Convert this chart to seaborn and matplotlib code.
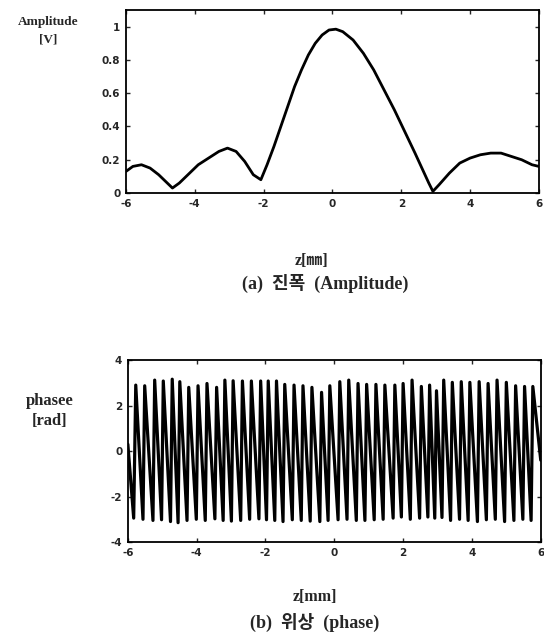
import pandas as pd
import matplotlib.pyplot as plt
import seaborn as sns

# amplitude curve
amp_z = [-6.0, -5.8, -5.55, -5.3, -5.05, -4.85, -4.65, -4.45, -4.2, -3.9, -3.6, -3.3, -3.05,
         -2.8, -2.55, -2.3, -2.08, -1.9, -1.7, -1.5, -1.3, -1.1, -0.9, -0.7, -0.5, -0.3,
         -0.1, 0.1, 0.3, 0.6, 0.9, 1.2, 1.5, 1.8, 2.1, 2.4, 2.6, 2.8, 2.92, 3.1, 3.4,
         3.7, 4.0, 4.3, 4.6, 4.9, 5.2, 5.5, 5.8, 6.0]
amp_v = [0.13, 0.16, 0.17, 0.15, 0.11, 0.07, 0.03, 0.06, 0.11, 0.17, 0.21, 0.25, 0.27,
         0.25, 0.19, 0.11, 0.08, 0.17, 0.28, 0.40, 0.52, 0.64, 0.74, 0.83, 0.90, 0.95,
         0.98, 0.985, 0.97, 0.92, 0.84, 0.74, 0.62, 0.50, 0.37, 0.24, 0.15, 0.06, 0.01, 0.05, 0.12,
         0.18, 0.21, 0.23, 0.24, 0.24, 0.22, 0.20, 0.17, 0.16]

# phase: wrapped sawtooth, peaks and troughs
peak_z = [-5.77, -5.51, -5.22, -4.97, -4.71, -4.49, -4.23, -3.96, -3.70, -3.42, -3.18, -2.94,
          -2.67, -2.41, -2.14, -1.92, -1.68, -1.44, -1.17, -0.91, -0.65, -0.37, -0.13, 0.16,
          0.42, 0.69, 0.94, 1.21, 1.47, 1.76, 2.00, 2.26, 2.53, 2.77, 2.97, 3.18, 3.43, 3.69,
          3.94, 4.21, 4.47, 4.73, 5.00, 5.27, 5.53, 5.77]
peak_v = [2.90, 2.87, 3.12, 3.08, 3.16, 3.05, 2.80, 2.87, 2.97, 2.80, 3.12, 3.09,
          3.08, 3.08, 3.08, 3.08, 3.08, 2.93, 2.90, 2.87, 2.80, 2.58, 2.87, 3.05,
          3.12, 2.97, 2.93, 2.93, 2.90, 2.90, 2.97, 3.12, 2.84, 2.90, 2.65, 3.12, 3.02, 3.05,
          3.02, 3.05, 2.97, 3.12, 3.02, 2.87, 2.84, 2.84]
trough_z = [-5.83, -5.56, -5.27, -5.02, -4.76, -4.54, -4.28, -4.01, -3.75, -3.47, -3.23, -2.99,
            -2.72, -2.46, -2.19, -1.97, -1.73, -1.49, -1.22, -0.96, -0.70, -0.42, -0.18, 0.11,
            0.37, 0.64, 0.89, 1.16, 1.42, 1.71, 1.95, 2.21, 2.48, 2.72, 2.92, 3.13, 3.38, 3.64,
            3.89, 4.16, 4.42, 4.68, 4.95, 5.22, 5.48, 5.72]
trough_v = [-2.95, -3.00, -3.05, -3.02, -3.10, -3.15, -3.05, -3.00, -3.05, -2.98, -3.05, -3.08,
            -3.05, -3.00, -2.98, -3.02, -3.05, -3.10, -3.02, -3.05, -3.08, -3.10, -3.05, -3.02,
            -3.00, -3.05, -3.05, -3.02, -3.00, -2.95, -2.90, -3.00, -2.95, -2.90, -2.95, -2.92,
            -3.05, -3.00, -3.05, -3.10, -3.02, -3.00, -3.10, -3.05, -3.00, -3.05]
phase_start = (-6.0, 0.3)
phase_end = (6.0, -0.4)

z_ticks = [-6, -4, -2, 0, 2, 4, 6]
amp_ticks = [0, 0.2, 0.4, 0.6, 0.8, 1]
amp_tick_labels = ['0', '0.2', '0.4', '0.6', '0.8', '1']
ph_ticks = [-4, -2, 0, 2, 4]

amp_df = pd.DataFrame({'z': amp_z, 'amp': amp_v})

ph_z = [phase_start[0]]
ph_v = [phase_start[1]]
for tz, tv, pz, pv in zip(trough_z, trough_v, peak_z, peak_v):
    ph_z += [tz, pz]
    ph_v += [tv, pv]
ph_z.append(phase_end[0])
ph_v.append(phase_end[1])
ph_df = pd.DataFrame({'z': ph_z, 'phase': ph_v})

sns.set_style('ticks')
plt.rcParams['font.family'] = ['Liberation Serif', 'Noto Sans CJK KR', 'DejaVu Sans']

fig = plt.figure(figsize=(5.44, 6.36), dpi=100)
ax1 = fig.add_axes([0.2316, 0.6965, 0.759, 0.2877])
ax2 = fig.add_axes([0.235, 0.1478, 0.759, 0.286])

sns.lineplot(data=amp_df, x='z', y='amp', ax=ax1, color='black', linewidth=2.0,
             estimator=None, sort=False)
sns.lineplot(data=ph_df, x='z', y='phase', ax=ax2, color='black', linewidth=2.3,
             estimator=None, sort=False)

tick_font = dict(family='Liberation Sans Narrow', weight='bold', size=7.5)
for ax in (ax1, ax2):
    ax.set_xlim(-6, 6)
    ax.set_xticks(z_ticks)
    ax.set_xticklabels([str(t) for t in z_ticks], fontdict=tick_font)
    ax.tick_params(direction='in', length=3, width=1, top=True, right=True, pad=4)
    ax.set_xlabel('')
    ax.set_ylabel('')
    for s in ax.spines.values():
        s.set_linewidth(1.3)
        s.set_color('black')

ax1.set_ylim(0, 1.1)
ax1.set_yticks(amp_ticks)
ax1.set_yticklabels(amp_tick_labels, fontdict=tick_font)
ax2.set_ylim(-4, 4)
ax2.set_yticks(ph_ticks)
ax2.set_yticklabels([str(t) for t in ph_ticks], fontdict=tick_font)

lab = dict(fontweight='bold', ha='center', va='center')
fig.text(48 / 544, 1 - 22 / 636, 'Amplitude', fontsize=9.5, **lab)
fig.text(48 / 544, 1 - 39 / 636, '[V]', fontsize=9.5, **lab)
fig.text(312 / 544, 1 - 261 / 636, 'z[㎜]', fontsize=11.5, **lab)
fig.text(325 / 544, 1 - 283 / 636, '(a)  진폭  (Amplitude)', fontsize=13, **lab)

fig.text(50 / 544, 1 - 401 / 636, 'phasee', fontsize=12, **lab)
fig.text(50 / 544, 1 - 421 / 636, '[rad]', fontsize=12, **lab)
fig.text(315 / 544, 1 - 597 / 636, 'z[mm]', fontsize=11.5, **lab)
fig.text(315 / 544, 1 - 622 / 636, '(b)  위상  (phase)', fontsize=13, **lab)

fig.savefig('out.png', dpi=100)
